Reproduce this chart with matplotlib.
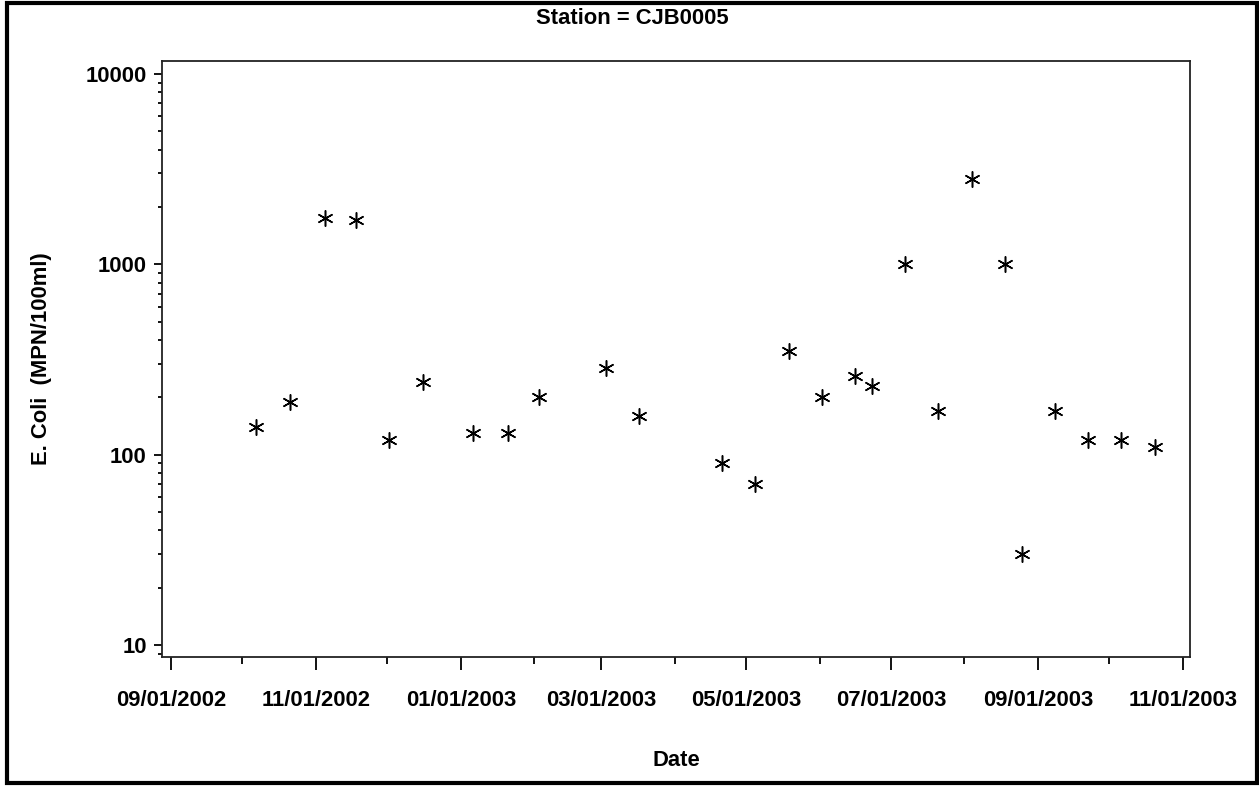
import matplotlib
matplotlib.use("Agg")
import matplotlib.pyplot as plt
import matplotlib.dates as mdates
from matplotlib.patches import Rectangle
from matplotlib.ticker import FixedLocator, FixedFormatter, LogLocator, NullFormatter
import datetime as dt

plt.rcParams['font.family'] = ['Liberation Sans', 'DejaVu Sans']

dates = [
    "2002-10-07", "2002-10-21", "2002-11-05", "2002-11-18", "2002-12-02",
    "2002-12-16", "2003-01-06", "2003-01-21", "2003-02-03", "2003-03-03",
    "2003-03-17", "2003-04-21", "2003-05-05", "2003-05-19", "2003-06-02",
    "2003-06-16", "2003-06-23", "2003-07-07", "2003-07-21", "2003-08-04",
    "2003-08-18", "2003-08-25", "2003-09-08", "2003-09-22", "2003-10-06",
    "2003-10-20",
]
ecoli = [
    140, 190, 1750, 1700, 120,
    240, 130, 130, 200, 285,
    160, 90, 70, 350, 200,
    260, 230, 1000, 170, 2800,
    1000, 30, 170, 120, 120,
    110,
]
y_ticks = [10, 100, 1000, 10000]
y_tick_labels = ["10", "100", "1000", "10000"]
x_tick_dates = ["2002-09-01", "2002-11-01", "2003-01-01", "2003-03-01",
                "2003-05-01", "2003-07-01", "2003-09-01", "2003-11-01"]
title = "Station = CJB0005"
xlabel = "Date"
ylabel = "E. Coli  (MPN/100ml)"

FS = 15.8
W, H = 1259, 786
fig = plt.figure(figsize=(W / 100, H / 100), dpi=100)

# outer frame
fig.patches.append(Rectangle((7 / W, 3 / H), (1257 - 7) / W, (783 - 3) / H,
                             transform=fig.transFigure, fill=False,
                             edgecolor='black', linewidth=3.0))

ax_l, ax_r, ax_t, ax_b = 162, 1190, 61, 657
ax = fig.add_axes([ax_l / W, 1 - ax_b / H, (ax_r - ax_l) / W, (ax_b - ax_t) / H])

xd = [dt.datetime.strptime(d, "%Y-%m-%d") for d in dates]
ax.plot(xd, ecoli, linestyle='none', marker=(6, 2, 0), markersize=11.5,
        markeredgewidth=1.1, color='black', markeredgecolor='black')

ax.set_yscale('log')
ax.set_ylim(10 ** 0.937, 10 ** 4.068)
ax.set_xlim(dt.datetime(2002, 8, 28, 6), dt.datetime(2003, 11, 3, 22))

ax.yaxis.set_major_locator(FixedLocator(y_ticks))
ax.yaxis.set_major_formatter(FixedFormatter(y_tick_labels))
ax.yaxis.set_minor_locator(LogLocator(base=10, subs=range(2, 10)))
ax.yaxis.set_minor_formatter(NullFormatter())

xt = [dt.datetime.strptime(d, "%Y-%m-%d") for d in x_tick_dates]
ax.set_xticks(xt)
ax.set_xticklabels([d.strftime("%m/%d/%Y") for d in xt])
ax.xaxis.set_minor_locator(mdates.MonthLocator())

for s in ax.spines.values():
    s.set_linewidth(1.3)
    s.set_color('#222222')

ax.tick_params(axis='y', which='major', direction='out', length=6, width=1.3,
               pad=5, labelsize=FS, left=True, right=False)
ax.tick_params(axis='y', which='minor', direction='out', length=3, width=1.3,
               left=True, right=False)
ax.tick_params(axis='x', which='major', direction='out', length=9.5, width=1.3,
               pad=14, labelsize=FS, top=False)
ax.tick_params(axis='x', which='minor', direction='out', length=5, width=1.3,
               top=False)
for lab in ax.get_xticklabels() + ax.get_yticklabels():
    lab.set_fontweight('bold')

ax.set_xlabel(xlabel, fontsize=FS, fontweight='bold')
ax.set_ylabel(ylabel, fontsize=FS, fontweight='bold')
ax.xaxis.set_label_coords((676 - ax_l) / (ax_r - ax_l), -(760 - ax_b) / (ax_b - ax_t))
ax.yaxis.set_label_coords(-(ax_l - 42) / (ax_r - ax_l), 0.5)
ax.xaxis.label.set_va('center')
ax.yaxis.label.set_va('center')

fig.text(632 / W, 1 - 18 / H, title, ha='center', va='center',
         fontsize=FS, fontweight='bold')

fig.savefig("out.png", dpi=100)
